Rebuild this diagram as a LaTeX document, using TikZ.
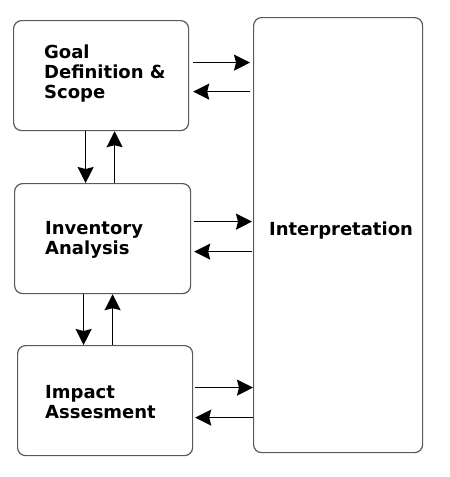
\documentclass[tikz,border=0pt]{standalone}
\usepackage{fontspec}
\setmainfont{DejaVu Sans}
\usetikzlibrary{arrows.meta}

\begin{document}
\begin{tikzpicture}[x=1pt, y=-1pt,
        box/.style={draw=black!65, line width=1.2pt, rounded corners=8pt, anchor=north west, inner sep=0pt},
        txt/.style={align=left, anchor=north west, inner sep=0pt, font=\bfseries\fontsize{18}{20}\selectfont},
        arr/.style={line width=1.5pt, -{Stealth[length=16pt, width=16pt, inset=2pt]}}]
                \useasboundingbox (0,0) rectangle (450,477);

                % Kästen
                \node[box, minimum width=175pt, minimum height=110pt] (goal) at (13,20) {};
                \node[box, minimum width=176pt, minimum height=110pt] (inv) at (14,183) {};
                \node[box, minimum width=175pt, minimum height=110pt] (impact) at (17,345) {};
                \node[box, minimum width=169pt, minimum height=435pt] (interp) at (253,17) {};

                % Texte
                \node[txt] (goaltext) at (44,45) {Goal\\Definition \&\\Scope};
                \node[txt] (invtext) at (45,221) {Inventory\\Analysis};
                \node[txt] (impacttext) at (45,385) {Impact\\Assesment};
                \node[txt, anchor=base] (interptext) at (341,235) {Interpretation};

                % Pfeile zwischen den Kästen links
                \draw[arr] ([xshift=-15.5pt]goal.south) -- ([xshift=-15.5pt]goal.south |- inv.north);
                \draw[arr] ([xshift=13.5pt]goal.south |- inv.north) -- ([xshift=13.5pt]goal.south);
                \draw[arr] ([xshift=-19pt]inv.south) -- ([xshift=-19pt]inv.south |- impact.north);
                \draw[arr] ([xshift=10pt]inv.south |- impact.north) -- ([xshift=10pt]inv.south);

                % Pfeile zur Interpretation
                \draw[arr, shorten <=4pt, shorten >=3pt] ([yshift=13pt]goal.east) -- ([yshift=13pt]goal.east -| interp.west);
                \draw[arr, shorten <=3pt, shorten >=4pt] ([yshift=-16pt]goal.east -| interp.west) -- ([yshift=-16pt]goal.east);
                \draw[arr, shorten <=3pt, shorten >=1pt] ([yshift=17pt]inv.east) -- ([yshift=17pt]inv.east -| interp.west);
                \draw[arr, shorten <=1pt, shorten >=3pt] ([yshift=-13pt]inv.east -| interp.west) -- ([yshift=-13pt]inv.east);
                \draw[arr, shorten <=2pt, shorten >=0pt] ([yshift=13pt]impact.east) -- ([yshift=13pt]impact.east -| interp.west);
                \draw[arr, shorten <=0pt, shorten >=2pt] ([yshift=-17pt]impact.east -| interp.west) -- ([yshift=-17pt]impact.east);

            \end{tikzpicture}
\end{document}
